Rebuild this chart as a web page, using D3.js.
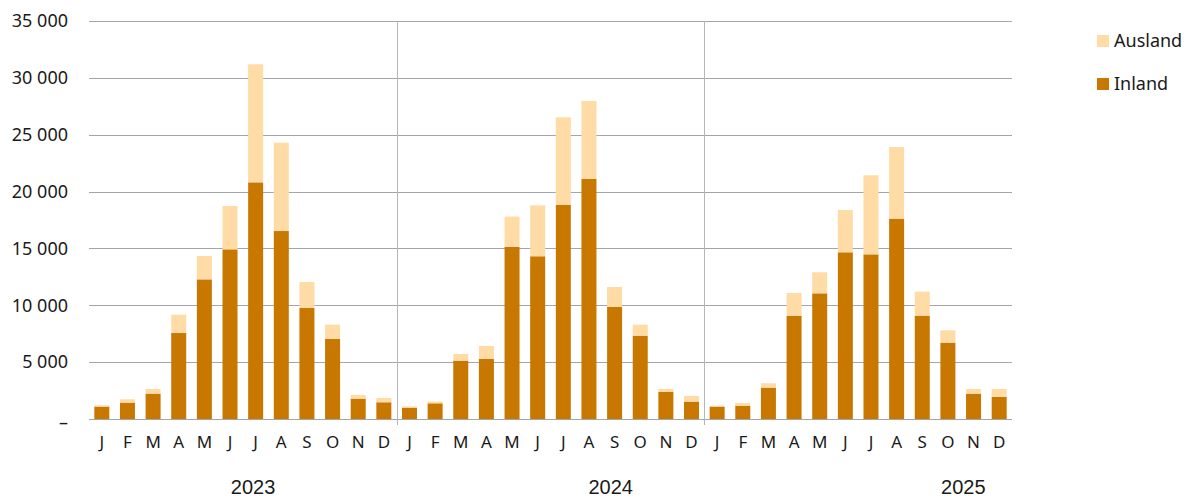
<!DOCTYPE html>
<html>
<head>
<meta charset="utf-8">
<script src="https://cdn.jsdelivr.net/npm/d3@7"></script>
<style>
  html, body { margin: 0; padding: 0; background: #fff; }
  svg { display: block; }
</style>
</head>
<body>
<svg id="chart" width="1187" height="497"></svg>
<script>
// ---- data ----
const months = ["J","F","M","A","M","J","J","A","S","O","N","D"];
const years = ["2023","2024","2025"];
// Inland values (per month, 2023..2025)
const inland = [
  1090, 1440, 2230, 7560, 12280, 14920, 20810, 16530, 9760, 7040, 1790, 1470,
  1000, 1380, 5130, 5280, 15130, 14310, 18820, 21110, 9850, 7330, 2400, 1530,
  1090, 1170, 2760, 9060, 11050, 14660, 14480, 17620, 9090, 6710, 2230, 1940
];
// Ausland values (stacked on top)
const ausland = [
  120, 290, 410, 1610, 2050, 3810, 10380, 7770, 2290, 1260, 320, 380,
  110, 150, 590, 1140, 2670, 4480, 7710, 6860, 1760, 970, 240, 500,
  80, 240, 380, 2020, 1850, 3720, 6950, 6300, 2110, 1090, 410, 700
];
const yTicks = [0, 5000, 10000, 15000, 20000, 25000, 30000, 35000];
const yTickLabels = ["–", "5 000", "10 000", "15 000", "20 000", "25 000", "30 000", "35 000"];
const seriesNames = ["Ausland", "Inland"];
const seriesColors = {"Inland": "#c87800", "Ausland": "#ffdba5"};
// year label anchors as fractional band positions
const yearLabelPos = [6.4, 20.35, 34.1];

// ---- layout ----
const svg = d3.select("#chart");
const plot = {left: 89, right: 1012, top: 21, bottom: 419};

const rows = [];
years.forEach((yr, yi) => months.forEach((m, mi) => {
  const i = yi * 12 + mi;
  rows.push({key: yr + "-" + mi, month: m, year: yr, Inland: inland[i], Ausland: ausland[i]});
}));

const x = d3.scaleBand()
  .domain(rows.map(d => d.key))
  .range([plot.left, plot.right])
  .paddingInner(0.415)
  .paddingOuter(0.2075);

const y = d3.scaleLinear().domain([0, 35000]).range([plot.bottom, plot.top]);

const fontMain = "'Noto Sans', 'DejaVu Sans', sans-serif";

// grid lines
const grid = svg.append("g");
grid.selectAll("line")
  .data(yTicks)
  .join("line")
  .attr("x1", plot.left).attr("x2", plot.right)
  .attr("y1", d => Math.round(y(d)) + 0.5).attr("y2", d => Math.round(y(d)) + 0.5)
  .attr("stroke", "#a2a5ab").attr("stroke-width", 1);

// year separators
const step = x.step();
const sepGroup = svg.append("g");
sepGroup.selectAll("line")
  .data([12, 24])
  .join("line")
  .attr("x1", d => Math.round(plot.left + d * step) + 0.5)
  .attr("x2", d => Math.round(plot.left + d * step) + 0.5)
  .attr("y1", plot.top).attr("y2", plot.bottom + 6)
  .attr("stroke", "#b4b6ba").attr("stroke-width", 1);

// stacked bars
const stack = d3.stack().keys(["Inland", "Ausland"]);
const stacked = stack(rows);
svg.append("g")
  .selectAll("g")
  .data(stacked)
  .join("g")
  .attr("fill", s => seriesColors[s.key])
  .selectAll("rect")
  .data(s => s)
  .join("rect")
  .attr("x", d => x(d.data.key))
  .attr("width", x.bandwidth())
  .attr("y", d => y(d[1]))
  .attr("height", d => y(d[0]) - y(d[1]));

// y axis labels
const yAxis = d3.axisLeft(y)
  .tickValues(yTicks)
  .tickFormat((d, i) => yTickLabels[i])
  .tickSize(0)
  .tickPadding(0);
const yg = svg.append("g")
  .attr("transform", "translate(68,0)")
  .call(yAxis);
yg.select(".domain").remove();
yg.selectAll("text")
  .attr("font-family", fontMain)
  .attr("font-size", 18)
  .attr("fill", "#1a1a1a");
yg.selectAll(".tick").filter(d => d === 0).select("text").attr("dy", "0.5em");

// x axis (months)
const xAxis = d3.axisBottom(x)
  .tickFormat(k => rows.find(r => r.key === k).month)
  .tickSize(0)
  .tickPadding(0);
const xg = svg.append("g")
  .attr("transform", "translate(0,436)")
  .call(xAxis);
xg.select(".domain").remove();
xg.selectAll("text")
  .attr("font-family", fontMain)
  .attr("font-size", 17)
  .attr("fill", "#1a1a1a");

// year labels
svg.append("g")
  .selectAll("text")
  .data(years)
  .join("text")
  .attr("x", (d, i) => plot.left + yearLabelPos[i] * step)
  .attr("y", 494)
  .attr("text-anchor", "middle")
  .attr("font-family", "'Liberation Sans', Arial, sans-serif")
  .attr("font-size", 20)
  .attr("fill", "#1a1a1a")
  .text(d => d);

// legend
const legend = svg.append("g").attr("transform", "translate(1097,35)");
const li = legend.selectAll("g")
  .data(seriesNames)
  .join("g")
  .attr("transform", (d, i) => `translate(0,${i * 43})`);
li.append("rect")
  .attr("width", 12).attr("height", 12)
  .attr("fill", d => seriesColors[d]);
li.append("text")
  .attr("x", 17).attr("y", 12)
  .attr("font-family", fontMain)
  .attr("font-size", 18)
  .attr("fill", "#1a1a1a")
  .text(d => d);
</script>
</body>
</html>
